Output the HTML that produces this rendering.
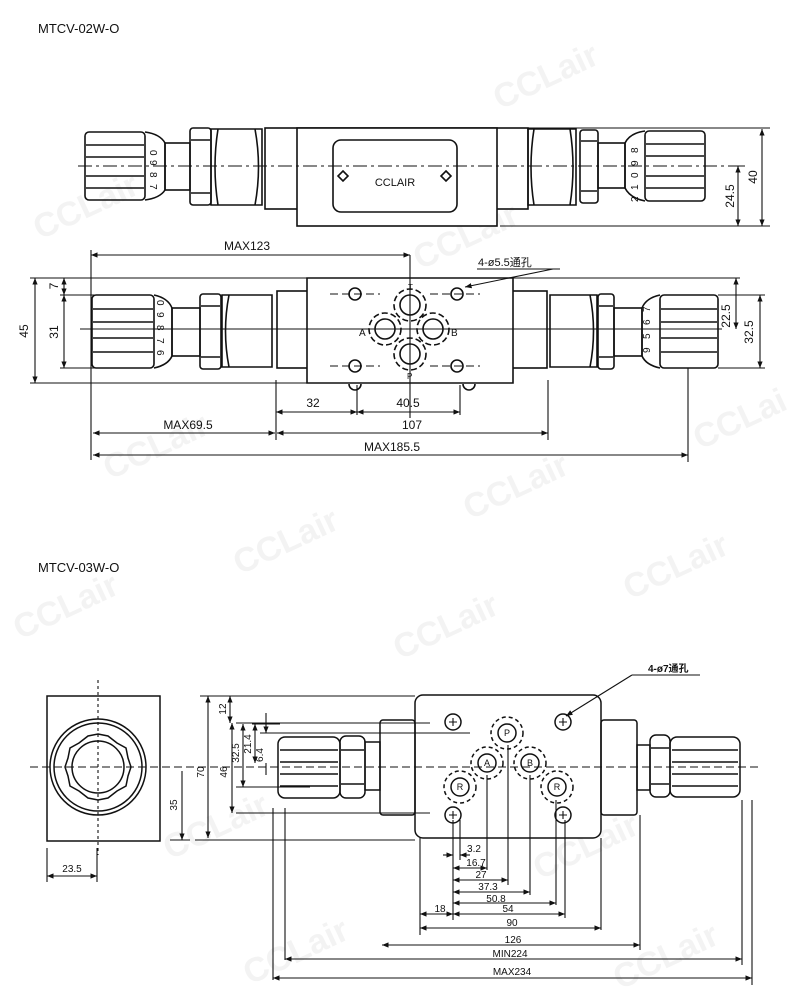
<!DOCTYPE html>
<html><head><meta charset="utf-8"><style>
html,body{margin:0;padding:0;background:#fff;}
svg{display:block;}
text{font-family:"Liberation Sans","Noto Sans CJK SC",sans-serif;fill:#111;}
</style></head><body>
<svg width="790" height="1000" viewBox="0 0 790 1000" xmlns="http://www.w3.org/2000/svg">
<defs>
<marker id="a" viewBox="0 0 10 10" refX="10" refY="5" markerWidth="6" markerHeight="6" orient="auto-start-reverse"><path d="M0,1 L10,5 L0,9 z" fill="#111"/></marker>
</defs>
<!-- watermarks -->
<g font-size="34" font-weight="bold" font-family="Liberation Sans,sans-serif">
<text x="500" y="110" transform="rotate(-25 500 110)" style="fill:#f3f3f3">CCLair</text>
<text x="40" y="240" transform="rotate(-25 40 240)" style="fill:#f3f3f3">CCLair</text>
<text x="420" y="270" transform="rotate(-25 420 270)" style="fill:#f3f3f3">CCLair</text>
<text x="700" y="450" transform="rotate(-25 700 450)" style="fill:#f3f3f3">CCLai</text>
<text x="110" y="480" transform="rotate(-25 110 480)" style="fill:#f3f3f3">CCLair</text>
<text x="470" y="520" transform="rotate(-25 470 520)" style="fill:#f3f3f3">CCLair</text>
<text x="240" y="575" transform="rotate(-25 240 575)" style="fill:#f3f3f3">CCLair</text>
<text x="630" y="600" transform="rotate(-25 630 600)" style="fill:#f3f3f3">CCLair</text>
<text x="20" y="640" transform="rotate(-25 20 640)" style="fill:#f3f3f3">CCLair</text>
<text x="400" y="660" transform="rotate(-25 400 660)" style="fill:#f3f3f3">CCLair</text>
<text x="170" y="860" transform="rotate(-25 170 860)" style="fill:#f3f3f3">CCLair</text>
<text x="540" y="880" transform="rotate(-25 540 880)" style="fill:#f3f3f3">CCLair</text>
<text x="250" y="985" transform="rotate(-25 250 985)" style="fill:#f3f3f3">CCLair</text>
<text x="620" y="990" transform="rotate(-25 620 990)" style="fill:#f3f3f3">CCLair</text>
</g>

<text x="38" y="33" font-size="13">MTCV-02W-O</text>
<text x="38" y="572" font-size="13">MTCV-03W-O</text>

<g stroke="#111" stroke-width="1.6" fill="none">
<!-- ===== TOP VIEW ===== -->
<rect x="265" y="128" width="263" height="81"/>
<rect x="297" y="128" width="200" height="98" fill="#fff"/>
<rect x="333" y="140" width="124" height="72" rx="8"/>
<path d="M343,171 l5,5 -5,5 -5,-5z M446,171 l5,5 -5,5 -5,-5z"/>
<rect x="85" y="132" width="60" height="68" rx="4"/>
<path d="M86,145 H144 M86,157 H144 M86,176 H144 M86,188 H144"/>
<path d="M145,132 Q160,134 165,143 V190 Q160,198 145,200"/>
<rect x="165" y="143" width="25" height="47"/>
<rect x="190" y="128" width="21" height="77" rx="3"/>
<path d="M191,140 H210 M191,193 H210"/>
<path d="M211,129 H262 V205 H211 Z M218,129 Q212,167 218,205 M255,129 Q262,167 255,205"/>
<path d="M528,129 H576 V205 H528 Z M534,129 Q528,167 534,205 M570,129 Q576,167 570,205"/>
<rect x="580" y="130" width="18" height="73" rx="3"/>
<path d="M581,141 H597 M581,191 H597"/>
<rect x="598" y="143" width="27" height="45"/>
<path d="M645,131 Q630,133 625,143 V188 Q630,198 645,201"/>
<rect x="645" y="131" width="60" height="70" rx="4"/>
<path d="M646,144 H704 M646,156 H704 M646,176 H704 M646,188 H704"/>
</g>
<g font-size="10" fill="#111">
<text x="150" y="150" transform="rotate(90 150 150)">0</text>
<text x="150" y="160" transform="rotate(90 150 160)">9</text>
<text x="150" y="172" transform="rotate(90 150 172)">8</text>
<text x="150" y="184" transform="rotate(90 150 184)">7</text>
<text x="630" y="145" transform="rotate(-90 638 145)">8</text>
<text x="630" y="158" transform="rotate(-90 638 158)">9</text>
<text x="630" y="170" transform="rotate(-90 638 170)">0</text>
<text x="630" y="182" transform="rotate(-90 638 182)">1</text>
<text x="630" y="194" transform="rotate(-90 638 194)">2</text>
</g>
<text x="395" y="186" font-size="11" text-anchor="middle">CCLAIR</text>
<g stroke="#111" stroke-width="1.1" fill="none">
<path d="M78,166 H744" stroke-dasharray="14,4,3,4"/>
<path d="M528,128 H770 M500,226 H770"/>
<path d="M762,129 V226" marker-start="url(#a)" marker-end="url(#a)"/>
<path d="M738,166 V226" marker-start="url(#a)" marker-end="url(#a)"/>
<path d="M728,166 H745"/>
</g>
<text x="757" y="177" font-size="12" transform="rotate(-90 757 177)" text-anchor="middle">40</text>
<text x="734" y="196" font-size="12" transform="rotate(-90 734 196)" text-anchor="middle">24.5</text>

<!-- ===== FRONT VIEW ===== -->
<g stroke="#111" stroke-width="1.6" fill="none">
<rect x="277" y="291" width="270" height="77"/>
<path d="M307,278 H513 V383 H307 Z" fill="#fff"/>
<rect x="92" y="295" width="62" height="73" rx="4"/>
<path d="M93,309 H153 M93,322 H153 M93,338 H153 M93,352 H153"/>
<path d="M154,295 Q168,298 172,308 V356 Q168,365 154,368"/>
<rect x="172" y="308" width="28" height="48"/>
<rect x="200" y="294" width="21" height="75" rx="3"/>
<path d="M201,306 H220 M201,357 H220"/>
<path d="M222,295 H272 V367 H222 Z M229,295 Q222,331 229,367"/>
<path d="M550,295 H597 V367 H550 Z M590,295 Q597,331 590,367"/>
<rect x="598" y="294" width="16" height="75" rx="3"/>
<path d="M599,306 H613 M599,357 H613"/>
<rect x="614" y="308" width="28" height="48"/>
<path d="M660,295 Q646,298 642,308 V356 Q646,365 660,368"/>
<rect x="660" y="295" width="58" height="73" rx="4"/>
<path d="M661,309 H717 M661,322 H717 M661,338 H717 M661,352 H717"/>
<circle cx="410" cy="305" r="10"/><circle cx="385" cy="329" r="10"/><circle cx="433" cy="329" r="10"/><circle cx="410" cy="354" r="10"/>
<g stroke-dasharray="6,3"><circle cx="410" cy="305" r="16"/><circle cx="385" cy="329" r="16"/><circle cx="433" cy="329" r="16"/><circle cx="410" cy="354" r="16"/></g>
<circle cx="355" cy="294" r="6"/><circle cx="457" cy="294" r="6"/><circle cx="355" cy="366" r="6"/><circle cx="457" cy="366" r="6"/>
<path d="M349,384 a4,4 0 0 0 12,0 M463,384 a4,4 0 0 0 12,0"/>
</g>
<g font-size="10">
<text x="157" y="300" transform="rotate(90 157 300)">0</text>
<text x="157" y="312" transform="rotate(90 157 312)">9</text>
<text x="157" y="325" transform="rotate(90 157 325)">8</text>
<text x="157" y="338" transform="rotate(90 157 338)">7</text>
<text x="157" y="350" transform="rotate(90 157 350)">6</text>
<text x="643" y="305" transform="rotate(-90 650 305)">7</text>
<text x="643" y="318" transform="rotate(-90 650 318)">6</text>
<text x="643" y="332" transform="rotate(-90 650 332)">5</text>
<text x="643" y="346" transform="rotate(-90 650 346)">9</text>
<text x="408" y="290" font-size="8">T</text>
<text x="359" y="336" font-size="10">A</text>
<text x="451" y="336" font-size="10">B</text>
<text x="407" y="379" font-size="8">P</text>
</g>
<g stroke="#111" stroke-width="1.1" fill="none">
<path d="M80,329 H722" />
<path d="M330,294 H380 M430,294 H480 M330,366 H380 M430,366 H480" stroke-dasharray="8,4"/>
<path d="M410,255 V418"/>
<path d="M91,250 V460 M276,380 V440 M548,380 V440 M688,368 V462 M357,385 V415 M460,385 V415"/>
<path d="M91,255 H410" marker-start="url(#a)" marker-end="url(#a)"/>
<path d="M30,278 H307 M60,295 H95 M60,368 H95 M30,383 H307"/>
<path d="M35,278 V383" marker-start="url(#a)" marker-end="url(#a)"/>
<path d="M64,278 V295" marker-start="url(#a)" marker-end="url(#a)"/>
<path d="M64,295 V368" marker-start="url(#a)" marker-end="url(#a)"/>
<path d="M513,278 H740 M718,295 H765 M718,368 H765"/>
<path d="M736,278 V329" marker-start="url(#a)" marker-end="url(#a)"/>
<path d="M760,295 V368" marker-start="url(#a)" marker-end="url(#a)"/>
<path d="M276,412 H357" marker-start="url(#a)" marker-end="url(#a)"/>
<path d="M357,412 H460" marker-start="url(#a)" marker-end="url(#a)"/>
<path d="M93,433 H275" marker-start="url(#a)" marker-end="url(#a)"/>
<path d="M277,433 H548" marker-start="url(#a)" marker-end="url(#a)"/>
<path d="M93,455 H688" marker-start="url(#a)" marker-end="url(#a)"/>
<path d="M553,269 L465,287" marker-end="url(#a)"/>
<path d="M477,269 H560"/>
</g>
<g font-size="12">
<text x="247" y="250" text-anchor="middle">MAX123</text>
<text x="478" y="266" font-size="11">4-ø5.5通孔</text>
<text x="28" y="331" transform="rotate(-90 28 331)" text-anchor="middle">45</text>
<text x="58" y="286" transform="rotate(-90 58 286)" text-anchor="middle">7</text>
<text x="58" y="332" transform="rotate(-90 58 332)" text-anchor="middle">31</text>
<text x="730" y="316" transform="rotate(-90 730 316)" text-anchor="middle">22.5</text>
<text x="753" y="332" transform="rotate(-90 753 332)" text-anchor="middle">32.5</text>
<text x="313" y="407" text-anchor="middle">32</text>
<text x="408" y="407" text-anchor="middle">40.5</text>
<text x="188" y="429" text-anchor="middle">MAX69.5</text>
<text x="412" y="429" text-anchor="middle">107</text>
<text x="392" y="451" text-anchor="middle">MAX185.5</text>
</g>

<!-- ===== MTCV-03W-O ===== -->
<g stroke="#111" stroke-width="1.5" fill="none">
<rect x="47" y="696" width="113" height="145"/>
<circle cx="98" cy="767" r="48"/><circle cx="98" cy="767" r="44"/>
<polygon points="98,734 108,736 117,743 126,748 128,758 131,767 128,776 126,786 117,791 108,798 98,800 88,798 79,791 70,786 68,776 65,767 68,758 70,748 79,743 88,736"/>
<circle cx="98" cy="767" r="26"/>
<rect x="415" y="695" width="186" height="143" rx="8" fill="#fff"/>
<rect x="380" y="720" width="35" height="95" rx="3"/>
<rect x="365" y="742" width="15" height="48"/>
<rect x="340" y="736" width="25" height="62" rx="6"/>
<path d="M341,750 H364 M341,784 H364"/>
<rect x="278" y="737" width="62" height="61" rx="7"/>
<path d="M280,750 H338 M280,762 H338 M280,774 H338 M280,786 H338"/>
<rect x="601" y="720" width="36" height="95" rx="3"/>
<rect x="637" y="745" width="13" height="45"/>
<rect x="650" y="735" width="20" height="62" rx="6"/>
<path d="M651,748 H669 M651,784 H669"/>
<rect x="670" y="737" width="70" height="60" rx="7"/>
<path d="M672,750 H738 M672,762 H738 M672,774 H738 M672,786 H738"/>
<circle cx="453" cy="722" r="8"/><circle cx="563" cy="722" r="8"/><circle cx="453" cy="815" r="8"/><circle cx="563" cy="815" r="8"/>
<circle cx="507" cy="733" r="9"/><circle cx="487" cy="763" r="9"/><circle cx="530" cy="763" r="9"/><circle cx="460" cy="787" r="9"/><circle cx="557" cy="787" r="9"/>
<g stroke-dasharray="4,3"><circle cx="507" cy="733" r="16"/><circle cx="487" cy="763" r="16"/><circle cx="530" cy="763" r="16"/><circle cx="460" cy="787" r="16"/><circle cx="557" cy="787" r="16"/></g>
</g>
<g stroke="#111" stroke-width="1.1" fill="none">
<path d="M449,722 h8 M453,718 v8 M559,722 h8 M563,718 v8 M449,815 h8 M453,811 v8 M559,815 h8 M563,811 v8"/>
<path d="M98,680 V855" stroke-dasharray="3,3"/>
<path d="M30,767 H760" stroke-dasharray="8,4"/>
<path d="M47,848 V882 M97,848 V882"/>
<path d="M47,876 H97" marker-start="url(#a)" marker-end="url(#a)"/>
<path d="M200,696 H415 M195,840 H415 M236,723 H430 M252,724 H280 M260,733 H470 M236,787 H310 M236,813 H430 M170,840 H190"/>
<path d="M208,696 V838" marker-start="url(#a)" marker-end="url(#a)"/>
<path d="M182,771 V840" marker-end="url(#a)"/>
<path d="M230,696 V723" marker-start="url(#a)" marker-end="url(#a)"/>
<path d="M232,723 V813" marker-start="url(#a)" marker-end="url(#a)"/>
<path d="M243,724 V787" marker-start="url(#a)" marker-end="url(#a)"/>
<path d="M255,724 V763" marker-start="url(#a)" marker-end="url(#a)"/>
<path d="M266,713 V733" marker-end="url(#a)"/>
<path d="M266,763 V775" />
<path d="M420,838 V935 M453,820 V920 M460,820 V860 M487,775 V870 M508,745 V885 M530,775 V895 M556,800 V905 M565,820 V918 M601,838 V930 M640,815 V950 M742,800 V965 M752,800 V985 M285,808 V960 M273,808 V980"/>
<path d="M443,855 H453" marker-end="url(#a)"/>
<path d="M470,855 H460" marker-end="url(#a)"/>
<path d="M453,868 H487" marker-start="url(#a)" marker-end="url(#a)"/>
<path d="M453,880 H508" marker-start="url(#a)" marker-end="url(#a)"/>
<path d="M453,892 H530" marker-start="url(#a)" marker-end="url(#a)"/>
<path d="M453,903 H556" marker-start="url(#a)" marker-end="url(#a)"/>
<path d="M453,914 H565" marker-start="url(#a)" marker-end="url(#a)"/>
<path d="M420,914 H453" marker-start="url(#a)" marker-end="url(#a)"/>
<path d="M420,928 H601" marker-start="url(#a)" marker-end="url(#a)"/>
<path d="M382,945 H640" marker-start="url(#a)" marker-end="url(#a)"/>
<path d="M285,959 H742" marker-start="url(#a)" marker-end="url(#a)"/>
<path d="M273,978 H752" marker-start="url(#a)" marker-end="url(#a)"/>
<path d="M632,675 L566,716" marker-end="url(#a)"/>
<path d="M632,675 H700"/>
</g>
<g font-size="9" text-anchor="middle">
<text x="507" y="736">P</text><text x="487" y="766">A</text><text x="530" y="766">B</text><text x="460" y="790">R</text><text x="557" y="790">R</text>
</g>
<g font-size="10">
<text x="648" y="672" font-size="10" font-weight="bold">4-ø7通孔</text>
<text x="72" y="872" text-anchor="middle">23.5</text>
<text x="177" y="805" transform="rotate(-90 177 805)" text-anchor="middle">35</text>
<text x="204" y="772" transform="rotate(-90 204 772)" text-anchor="middle">70</text>
<text x="226" y="709" transform="rotate(-90 226 709)" text-anchor="middle">12</text>
<text x="227" y="772" transform="rotate(-90 227 772)" text-anchor="middle">46</text>
<text x="239" y="753" transform="rotate(-90 239 753)" text-anchor="middle">32.5</text>
<text x="251" y="744" transform="rotate(-90 251 744)" text-anchor="middle">21.4</text>
<text x="263" y="755" transform="rotate(-90 263 755)" text-anchor="middle">6.4</text>
<text x="474" y="852" text-anchor="middle">3.2</text>
<text x="476" y="866" text-anchor="middle">16.7</text>
<text x="481" y="878" text-anchor="middle">27</text>
<text x="488" y="890" text-anchor="middle">37.3</text>
<text x="496" y="902" text-anchor="middle" fill="#666">50.8</text>
<text x="508" y="912" text-anchor="middle">54</text>
<text x="440" y="912" text-anchor="middle">18</text>
<text x="512" y="926" text-anchor="middle">90</text>
<text x="513" y="943" text-anchor="middle">126</text>
<text x="510" y="957" text-anchor="middle">MIN224</text>
<text x="512" y="975" text-anchor="middle">MAX234</text>
</g>
</svg>
</body></html>
